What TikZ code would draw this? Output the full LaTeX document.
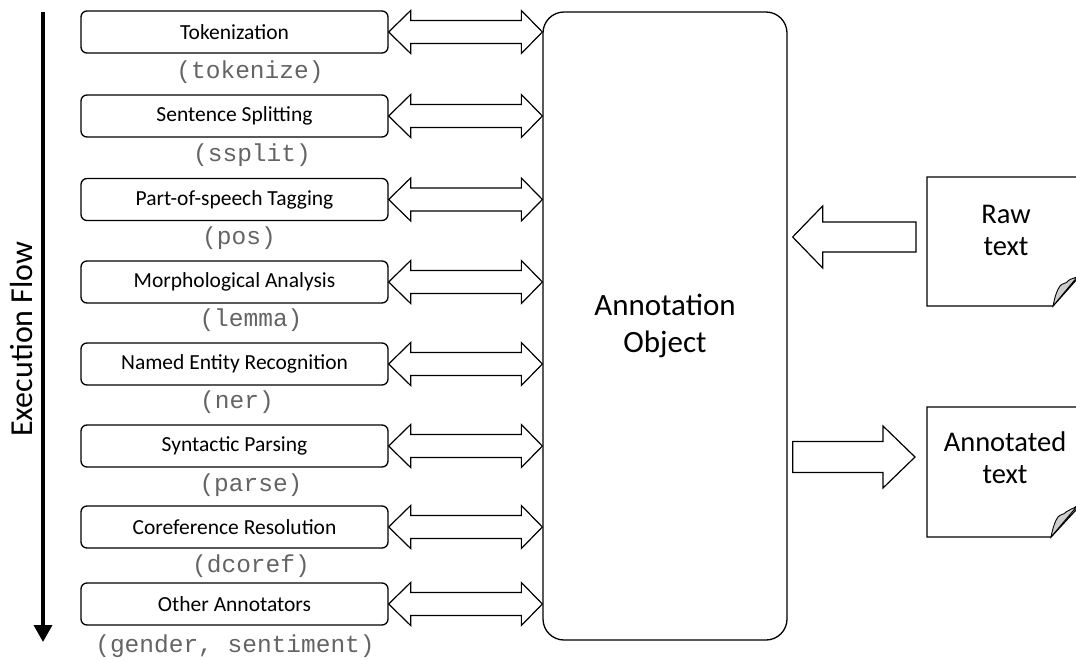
\documentclass[tikz,border=0pt]{standalone}
\usepackage{fontspec}
\setmainfont{Carlito}
\newfontfamily\codefont{Liberation Mono}
\usetikzlibrary{arrows.meta,calc}
\definecolor{codegray}{RGB}{100,100,100}
\definecolor{foldgray}{RGB}{205,205,205}
\tikzset{
  stagebox/.style={draw=black, line width=1.3pt, rounded corners=6pt, fill=white,
    minimum width=307pt, minimum height=42pt, inner sep=0pt,
    font=\fontsize{21.5}{24}\selectfont},
  codelabel/.style={text=codegray, inner sep=0pt, font=\codefont\fontsize{24.5}{26}\selectfont},
  bigbox/.style={draw=black, line width=1.3pt, rounded corners=21pt, fill=white,
    minimum width=244pt, minimum height=628pt, inner sep=0pt, align=center,
    font=\fontsize{31}{37}\selectfont},
  fatarrow/.style={draw=black, line width=1.2pt, fill=white, line join=miter},
  doctext/.style={align=center, inner sep=0pt, font=\fontsize{28.5}{32}\selectfont},
  docshape/.style={draw=black, line width=1.3pt, fill=white},
}
\newcommand\twoway[2]{%
  \draw[fatarrow] let \p1=(#1), \p2=(#2) in
  (\x1,\y1) -- (\x1+22pt,\y1+21.5pt) -- (\x1+22pt,\y1+11.5pt) -- (\x2-21pt,\y1+11.5pt)
  -- (\x2-21pt,\y1+21.5pt) -- (\x2,\y1) -- (\x2-21pt,\y1-21.5pt) -- (\x2-21pt,\y1-11.5pt)
  -- (\x1+22pt,\y1-11.5pt) -- (\x1+22pt,\y1-21.5pt) -- cycle;}
\begin{document}
\begin{tikzpicture}[x=1pt,y=-1pt]
\useasboundingbox (0,0) rectangle (1076,659);
\clip (0,0) rectangle (1076,659);

% execution flow
\coordinate (ftop) at (43,12);
\coordinate (fbot) at (43,642);
\draw[line width=3.5pt, -{Triangle[width=18pt,length=17pt]}] (ftop) -- (fbot);
\node[rotate=90, inner sep=0pt, font=\fontsize{32}{34}\selectfont] (flow) at (22,339) {Execution Flow};

% annotation object
\node[bigbox] (obj) at (665,326) {Annotation\\Object};

% stages
\node[stagebox] (b1) at (234.5,32) {Tokenization};
\node[stagebox] (b2) at (234.5,116) {Sentence Splitting};
\node[stagebox] (b3) at (234.5,199.5) {Part-of-speech Tagging};
\node[stagebox] (b4) at (234.5,282) {Morphological Analysis};
\node[stagebox] (b5) at (234.5,364) {Named Entity Recognition};
\node[stagebox] (b6) at (234.5,446) {Syntactic Parsing};
\node[stagebox] (b7) at (234.5,527) {Coreference Resolution};
\node[stagebox] (b8) at (234.5,604) {Other Annotators};

\node[codelabel] (c1) at (250,72) {(tokenize)};
\node[codelabel] (c2) at (252,155) {(ssplit)};
\node[codelabel] (c3) at (239,238) {(pos)};
\node[codelabel] (c4) at (251,320) {(lemma)};
\node[codelabel] (c5) at (237,402) {(ner)};
\node[codelabel] (c6) at (251,485) {(parse)};
\node[codelabel] (c7) at (251,566) {(dcoref)};
\node[codelabel] (c8) at (235,646) {(gender, sentiment)};

\foreach \i in {1,...,8}{\twoway{b\i.east}{obj.west|-b\i.east}}

% documents
\draw[docshape] (927,177) -- (1085,177) -- (1085,270) -- (1053,306) -- (927,306) -- cycle;
\draw[line width=0.9pt, fill=foldgray] (1053,306) .. controls (1055,296) and (1057,290) .. (1060,286)
  .. controls (1062,283) and (1066,284) .. (1068,281) .. controls (1071,278) and (1074,279) .. (1078,276) -- cycle;
\node[doctext] (raw) at (1006,230) {Raw\\text};
\coordinate (rawin) at (916,237);

\draw[docshape] (927,407) -- (1085,407) -- (1085,500) -- (1051,537) -- (927,537) -- cycle;
\draw[line width=0.9pt, fill=foldgray] (1051,537) .. controls (1053,527) and (1055,521) .. (1058,517)
  .. controls (1060,514) and (1064,515) .. (1066,512) .. controls (1069,509) and (1072,510) .. (1078,505) -- cycle;
\node[doctext] (ann) at (1005,458) {Annotated\\text};
\coordinate (annout) at (915,457);

% input arrow: raw -> object
\draw[fatarrow] let \p1=(rawin), \p2=($(obj.east|-rawin)+(5,0)$) in
  (\x2,\y1) -- (\x2+30pt,\y1+31pt) -- (\x2+30pt,\y1+15pt) -- (\x1,\y1+15pt)
  -- (\x1,\y1-15pt) -- (\x2+30pt,\y1-15pt) -- (\x2+30pt,\y1-31pt) -- cycle;
% output arrow: object -> annotated
\draw[fatarrow] let \p1=(annout), \p2=($(obj.east|-annout)+(5,0)$) in
  (\x1,\y1) -- (\x1-32pt,\y1+31pt) -- (\x1-32pt,\y1+15.5pt) -- (\x2,\y1+15.5pt)
  -- (\x2,\y1-15.5pt) -- (\x1-32pt,\y1-15.5pt) -- (\x1-32pt,\y1-31pt) -- cycle;
\end{tikzpicture}
\end{document}
